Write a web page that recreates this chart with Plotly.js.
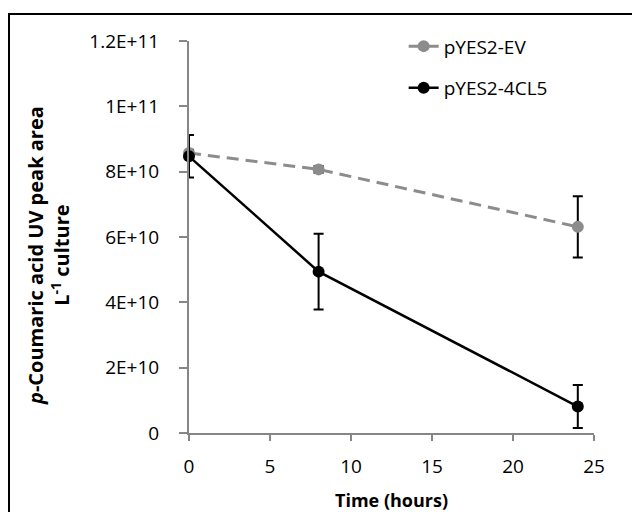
<!DOCTYPE html>
<html>
<head>
<meta charset="utf-8">
<script src="https://cdn.plot.ly/plotly-3.0.1.min.js"></script>
<style>
html,body{margin:0;padding:0;overflow:hidden;background:#fff;}
#chart{width:632px;height:512px;position:absolute;left:0;top:0;}
#frame{position:absolute;left:8px;top:13px;width:640px;height:520px;border:2px solid #000;box-sizing:border-box;pointer-events:none;}
</style>
</head>
<body>
<div id="chart"></div>
<div id="frame"></div>
<script>
// Data
const timeHours = [0, 8, 24];
const evValues = [8.57e10, 8.07e10, 6.31e10];
const evErrors = [0.1e10, 0.1e10, 0.94e10];
const cl5Values = [8.47e10, 4.94e10, 0.81e10];
const cl5Errors = [0.65e10, 1.16e10, 0.66e10];
const seriesNames = ['pYES2-EV', 'pYES2-4CL5'];
const yTickVals = [0, 2e10, 4e10, 6e10, 8e10, 1e11, 1.2e11];
const yTickText = ['0', '2E+10', '4E+10', '6E+10', '8E+10', '1E+11', '1.2E+11'];
const xTickVals = [0, 5, 10, 15, 20, 25];

const FONT = 'Open Sans, DejaVu Sans, sans-serif';

const traces = [
  {
    x: timeHours, y: evValues, name: seriesNames[0], type: 'scatter', mode: 'lines+markers',
    legendgroup: 'a', cliponaxis: false,
    line: {color: '#8c8c8c', width: 3, dash: '12px,7px'},
    marker: {color: '#8c8c8c', size: 12},
    error_y: {type: 'data', array: evErrors, visible: true, color: '#000', thickness: 2, width: 5}
  },
  {
    x: timeHours, y: cl5Values, name: seriesNames[1], type: 'scatter', mode: 'lines+markers',
    legendgroup: 'b', cliponaxis: false,
    line: {color: '#000', width: 2.5},
    marker: {color: '#000', size: 12},
    error_y: {type: 'data', array: cl5Errors, visible: true, color: '#000', thickness: 2, width: 5}
  }
];

const axisCommon = {
  showline: true, linecolor: '#868686', linewidth: 2,
  ticks: 'outside', tickcolor: '#868686', tickwidth: 2,
  showgrid: false, zeroline: false,
  tickfont: {family: FONT, size: 19, color: '#000'}
};

const layout = {
  width: 632, height: 512,
  margin: {l: 189, r: 38, t: 41, b: 79},
  paper_bgcolor: '#fff', plot_bgcolor: '#fff',
  showlegend: true,
  legend: {
    x: 0.53, y: 1.035, xanchor: 'left', yanchor: 'top',
    traceorder: 'grouped', tracegroupgap: 14,
    font: {family: FONT, size: 19, color: '#000'},
    bgcolor: 'rgba(0,0,0,0)'
  },
  xaxis: Object.assign({}, axisCommon, {
    range: [0, 25], tickmode: 'array', tickvals: xTickVals, ticklen: 6, ticklabelstandoff: 9,
    title: {text: '<b>Time (hours)</b>', font: {family: FONT, size: 18, color: '#000'}, standoff: 19}
  }),
  yaxis: Object.assign({}, axisCommon, {
    range: [0, 1.2e11], tickmode: 'array', tickvals: yTickVals, ticktext: yTickText, ticklen: 8, ticklabelstandoff: 16
  }),
  annotations: [{
    xref: 'paper', yref: 'paper', x: 0, y: 0.5, xshift: -141, yshift: -19,
    xanchor: 'center', yanchor: 'middle', textangle: -90, showarrow: false,
    text: '<b><i>p</i>-Coumaric acid UV peak area<br>L<sup>-1</sup> culture</b>',
    font: {family: FONT, size: 20, color: '#000'}
  }]
};

Plotly.newPlot('chart', traces, layout, {displayModeBar: false, staticPlot: true});
</script>
</body>
</html>
